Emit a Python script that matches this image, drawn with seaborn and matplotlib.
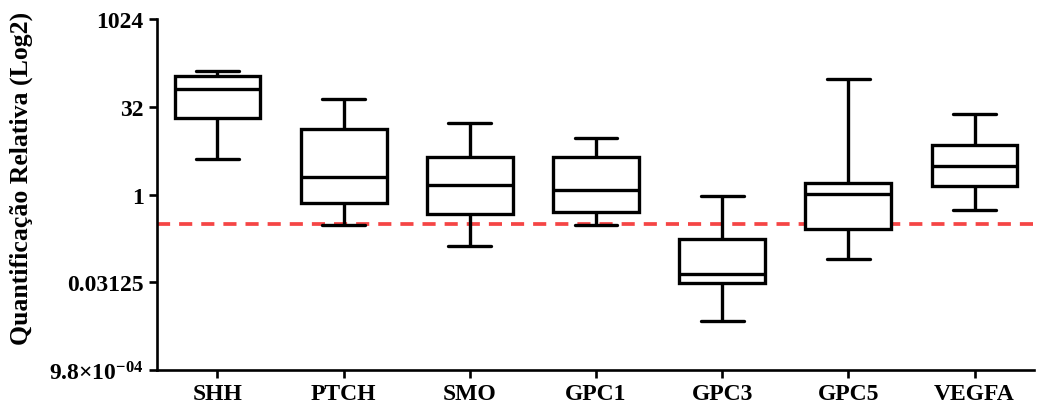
import numpy as np
import pandas as pd
import matplotlib
matplotlib.use("Agg")
import matplotlib.pyplot as plt
from matplotlib.ticker import NullLocator
import seaborn as sns

# values: [min, q1, median, q3, max] per gene
genes = ['SHH', 'PTCH', 'SMO', 'GPC1', 'GPC3', 'GPC5', 'VEGFA']
shh = [4.15, 20.8, 66, 108, 134]
ptch = [0.30, 0.71, 2.04, 13.1, 42.8]
smo = [0.133, 0.466, 1.45, 4.39, 17.0]
gpc1 = [0.30, 0.50, 1.20, 4.39, 9.3]
gpc3 = [0.0069, 0.031, 0.044, 0.172, 0.96]
gpc5 = [0.079, 0.257, 1.04, 1.57, 96]
vegfa = [0.55, 1.39, 3.15, 6.95, 24.3]
cutoff = 0.315

ytick_vals = [2 ** -10, 2 ** -5, 1, 32, 1024]
ytick_labels = [r'9.8$\times$10$^{\mathbf{-04}}$', '0.03125', '1', '32', '1024']

sns.set_style("white")
plt.rcParams['font.family'] = ['Liberation Serif', 'DejaVu Serif']
plt.rcParams['font.weight'] = 'bold'
plt.rcParams['mathtext.fontset'] = 'custom'
plt.rcParams['mathtext.rm'] = 'Liberation Serif:bold'
plt.rcParams['mathtext.bf'] = 'Liberation Serif:bold'
plt.rcParams['mathtext.default'] = 'rm'
plt.rcParams['text.color'] = 'black'
plt.rcParams['axes.labelcolor'] = 'black'
plt.rcParams['xtick.color'] = 'black'
plt.rcParams['ytick.color'] = 'black'

series = [shh, ptch, smo, gpc1, gpc3, gpc5, vegfa]
df = pd.DataFrame({
    'gene': np.repeat(genes, [len(s) for s in series]),
    'value': np.concatenate(series),
})

fig = plt.figure(figsize=(10.39, 4.10), dpi=100)
ax = fig.add_axes([0.151, 0.095, 0.844, 0.856])

ax.axhline(cutoff, color='#f54545', lw=2.7, dashes=(3.5, 2.4), zorder=1)

sns.boxplot(data=df, x='gene', y='value', order=genes, whis=(0, 100),
            width=0.68, color='white', linecolor='black', linewidth=2.4,
            log_scale=2, ax=ax, zorder=2)

ax.set_ylim(2 ** -10, 2 ** 10)
ax.set_xlim(-0.48, 6.47)
ax.set_yticks(ytick_vals)
ax.set_yticklabels(ytick_labels)
ax.yaxis.set_minor_locator(NullLocator())
ax.set_xlabel('')
ax.set_ylabel('Quantificação Relativa (Log2)', fontsize=18.5, fontweight='bold')
ax.yaxis.set_label_coords(-0.141, 0.55)

for s in ['top', 'right']:
    ax.spines[s].set_visible(False)
for s in ['left', 'bottom']:
    ax.spines[s].set_color('black')
    ax.spines[s].set_linewidth(1.9)
ax.tick_params(axis='both', which='major', direction='out', length=5.5,
               width=1.9, color='black', labelcolor='black', labelsize=17,
               pad=4, left=True, bottom=True)
for lab in ax.get_xticklabels() + ax.get_yticklabels():
    lab.set_fontweight('bold')

fig.savefig('out.png', dpi=100)
